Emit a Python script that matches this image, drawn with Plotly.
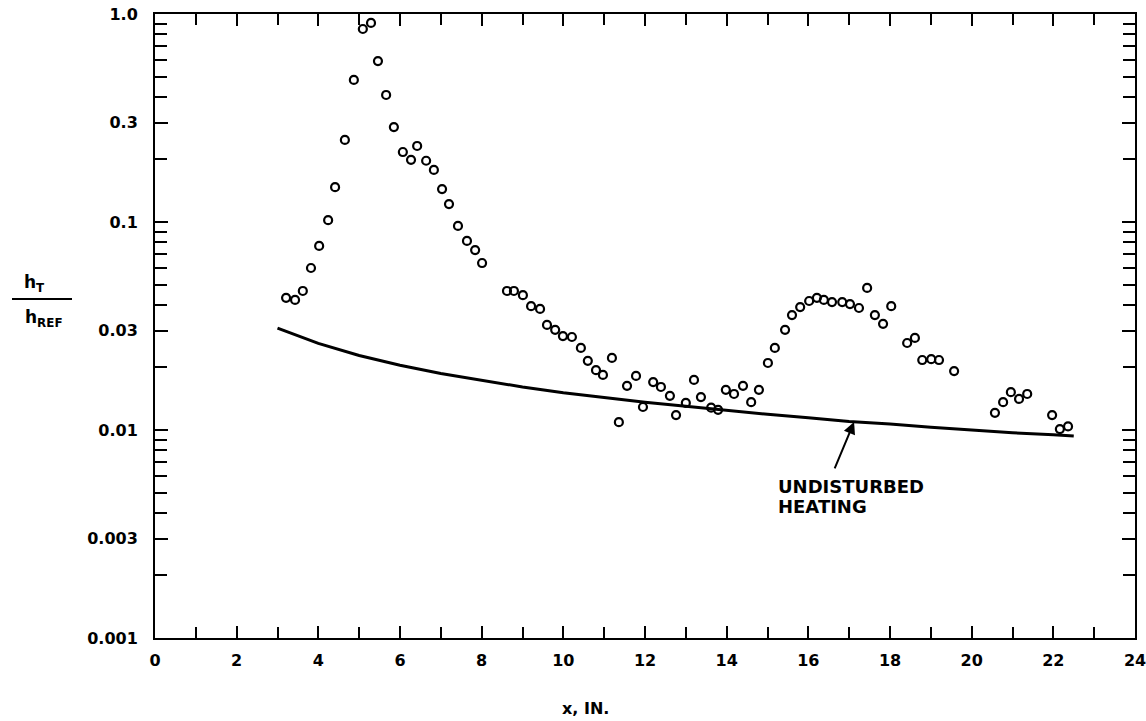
import math
import plotly.graph_objects as go

# Measured data points (x in inches, h_T / h_REF)
x_pts = [3.21, 3.43, 3.62, 3.82, 4.02, 4.24, 4.41, 4.65, 4.87, 5.09, 5.29, 5.46, 5.66, 5.85,
         6.07, 6.27, 6.42, 6.64, 6.83, 7.03, 7.20, 7.42, 7.64, 7.84, 8.01,
         8.62, 8.79, 9.01, 9.21, 9.43, 9.60, 9.80, 9.99, 10.21, 10.43, 10.60, 10.80, 10.97,
         11.19, 11.36, 11.56, 11.78, 11.95, 12.20, 12.39, 12.61, 12.76, 13.00, 13.20, 13.37,
         13.62, 13.79, 13.98, 14.18, 14.40, 14.60, 14.79, 15.01, 15.18, 15.43, 15.60, 15.80,
         16.02, 16.21, 16.38, 16.58, 16.83, 17.02, 17.24, 17.44, 17.63, 17.83, 18.03,
         18.42, 18.61, 18.79, 19.01, 19.20, 19.57, 20.57, 20.77, 20.96, 21.16, 21.36,
         21.97, 22.16, 22.36]
y_pts = [0.0432, 0.0422, 0.0466, 0.0601, 0.0767, 0.102, 0.147, 0.248, 0.482, 0.847, 0.906, 0.594, 0.408, 0.286,
         0.217, 0.199, 0.232, 0.197, 0.178, 0.144, 0.122, 0.0957, 0.0811, 0.0733, 0.0635,
         0.0466, 0.0466, 0.0445, 0.0394, 0.0382, 0.0320, 0.0303, 0.0283, 0.0280, 0.0248, 0.0215, 0.0194, 0.0184,
         0.0222, 0.0109, 0.0163, 0.0182, 0.0129, 0.0170, 0.0161, 0.0146, 0.0118, 0.0135, 0.0174, 0.0144,
         0.0128, 0.0125, 0.0156, 0.0149, 0.0163, 0.0136, 0.0156, 0.0210, 0.0248, 0.0303, 0.0357, 0.0390,
         0.0417, 0.0432, 0.0422, 0.0412, 0.0412, 0.0403, 0.0386, 0.0482, 0.0357, 0.0324, 0.0394,
         0.0262, 0.0277, 0.0217, 0.0219, 0.0217, 0.0192, 0.0121, 0.0136, 0.0152, 0.0141, 0.0149,
         0.0118, 0.0101, 0.0104]

# Undisturbed heating curve
x_line = [3, 4, 5, 6, 7, 8, 9, 10, 11, 12, 13, 14, 15, 16, 17, 18, 19, 20, 21, 22, 22.5]
y_line = [0.0309, 0.0261, 0.0228, 0.0205, 0.0187, 0.0173, 0.0161, 0.0151, 0.0143, 0.0136, 0.0130,
          0.0124, 0.0119, 0.01145, 0.0110, 0.0107, 0.0103, 0.0100, 0.0097, 0.0095, 0.00935]

x_major = [0, 2, 4, 6, 8, 10, 12, 14, 16, 18, 20, 22, 24]
x_minor = [1, 3, 5, 7, 9, 11, 13, 15, 17, 19, 21, 23]
y_major = [0.001, 0.003, 0.01, 0.03, 0.1, 0.3, 1.0]
y_major_text = ["0.001", "0.003", "0.01", "0.03", "0.1", "0.3", "1.0"]
y_minor = [0.002, 0.004, 0.005, 0.006, 0.007, 0.008, 0.009,
           0.02, 0.04, 0.05, 0.06, 0.07, 0.08, 0.09,
           0.2, 0.4, 0.5, 0.6, 0.7, 0.8, 0.9]

curve_label_lines = ["UNDISTURBED", "HEATING"]
curve_label_x = 15.21
curve_label_y = [0.00538, 0.00431]
arrow_tip = (17.12, 0.01093)

FONT = "DejaVu Sans"

fig = go.Figure()
fig.add_trace(go.Scatter(x=x_line, y=y_line, mode="lines",
                         line=dict(color="black", width=3), showlegend=False))
fig.add_trace(go.Scatter(x=x_pts, y=y_pts, mode="markers",
                         marker=dict(symbol="circle-open", size=8, color="black",
                                     line=dict(color="black", width=2.2)),
                         showlegend=False))

fig.update_xaxes(range=[0, 24], tickmode="array", tickvals=x_major,
                 ticktext=[str(v) for v in x_major],
                 ticks="inside", ticklen=12, tickwidth=2, tickcolor="black",
                 minor=dict(tickmode="array", tickvals=x_minor, ticks="inside", ticklen=11,
                            tickwidth=2, tickcolor="black", showgrid=False),
                 showline=True, linecolor="black", linewidth=2, mirror="allticks",
                 showgrid=False, zeroline=False, ticklabelstandoff=7, automargin=False,
                 ticklabeloverflow="allow",
                 tickfont=dict(family=FONT, size=16, color="black", weight="bold"))
fig.update_yaxes(type="log", range=[-3, 0], tickmode="array", tickvals=y_major,
                 ticktext=y_major_text,
                 ticks="inside", ticklen=13, tickwidth=2, tickcolor="black",
                 minor=dict(tickmode="array", tickvals=y_minor, ticks="inside", ticklen=12,
                            tickwidth=2, tickcolor="black", showgrid=False),
                 showline=True, linecolor="black", linewidth=2, mirror="allticks",
                 showgrid=False, zeroline=False, ticklabelstandoff=12, automargin=False,
                 ticklabeloverflow="allow",
                 tickfont=dict(family=FONT, size=16, color="black", weight="bold"))

PL, PR, PT, PB = 155, 1135, 14, 638   # plot area in window pixels
W, H = 1146, 721
L, T = PL, PT
R = W - PR
B = H - PB

def px(xp):
    return (xp - PL) / (PR - PL)

def py(yp):
    return (PB - yp) / (PB - PT)

annos = [
    dict(text="x, IN.", x=px(585), y=py(708), xref="paper", yref="paper",
         showarrow=False, xanchor="center", yanchor="middle",
         font=dict(family=FONT, size=16, color="black", weight="bold")),
    dict(text="h<sub>T</sub>", x=px(34), y=py(283), xref="paper", yref="paper",
         showarrow=False, xanchor="center", yanchor="middle",
         font=dict(family=FONT, size=17, color="black", weight="bold")),
    dict(text="h<sub>REF</sub>", x=px(44), y=py(318), xref="paper", yref="paper",
         showarrow=False, xanchor="center", yanchor="middle",
         font=dict(family=FONT, size=17, color="black", weight="bold")),
    dict(text="", x=arrow_tip[0], y=math.log10(arrow_tip[1]), xref="x", yref="y",
         showarrow=True, ax=-20, ay=48, arrowhead=2, arrowsize=1.2, arrowwidth=2,
         arrowcolor="black"),
]
for txt, yv in zip(curve_label_lines, curve_label_y):
    annos.append(dict(text=txt, x=curve_label_x, y=math.log10(yv), xref="x", yref="y",
                      showarrow=False, xanchor="left", yanchor="middle",
                      font=dict(family=FONT, size=18, color="black", weight="bold")))

fig.update_layout(
    width=W, height=H,
    margin=dict(l=L, r=R, t=T, b=B),
    paper_bgcolor="white", plot_bgcolor="white",
    annotations=annos,
    shapes=[dict(type="line", xref="paper", yref="paper",
                 x0=px(12), x1=px(72), y0=py(299), y1=py(299),
                 line=dict(color="black", width=2))],
)

fig.write_html("out.html",
               config={"displayModeBar": False},
               post_script="document.body.style.margin='0';document.body.style.overflow='hidden';")
